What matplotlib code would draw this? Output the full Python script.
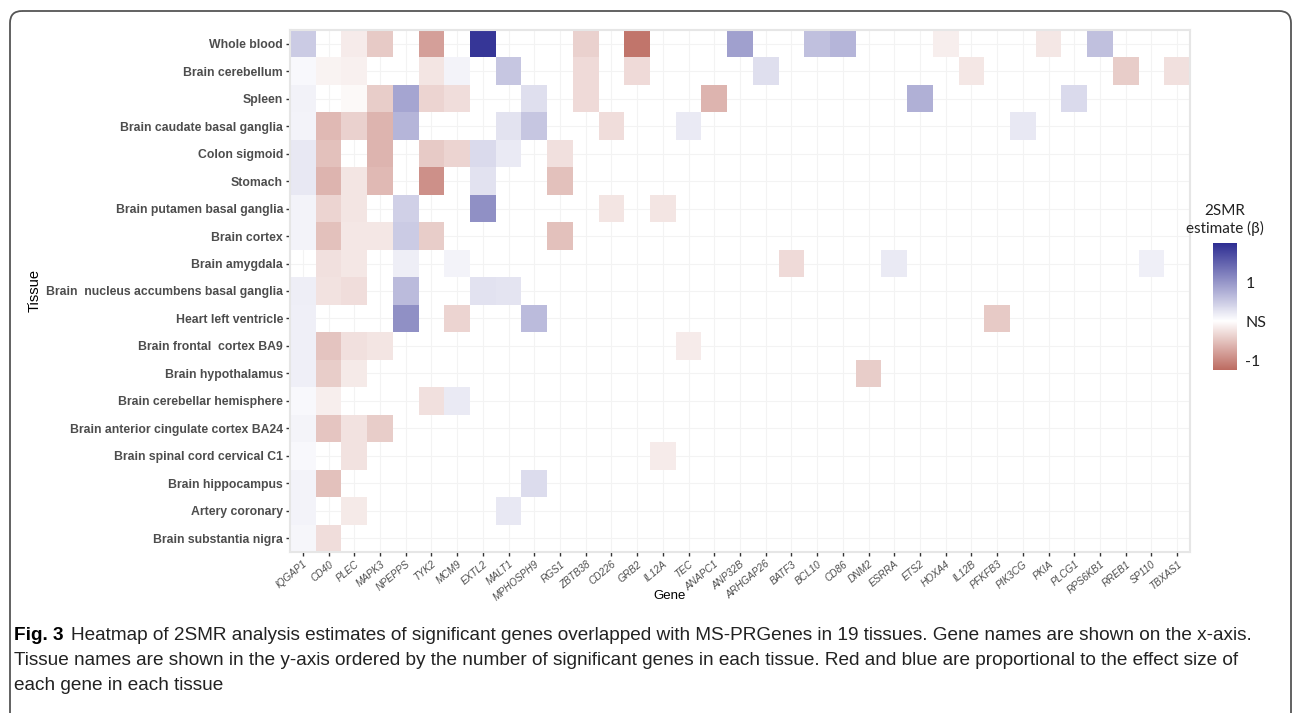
import numpy as np
import matplotlib
matplotlib.use("Agg")
import matplotlib.pyplot as plt
from matplotlib.colors import LinearSegmentedColormap, Normalize
from matplotlib.patches import FancyBboxPatch

# tissues ordered by number of significant genes (top to bottom)
tissues = [
    "Whole blood", "Brain cerebellum", "Spleen", "Brain caudate basal ganglia",
    "Colon sigmoid", "Stomach", "Brain putamen basal ganglia", "Brain cortex",
    "Brain amygdala", "Brain  nucleus accumbens basal ganglia", "Heart left ventricle",
    "Brain frontal  cortex BA9", "Brain hypothalamus", "Brain cerebellar hemisphere",
    "Brain anterior cingulate cortex BA24", "Brain spinal cord cervical C1",
    "Brain hippocampus", "Artery coronary", "Brain substantia nigra",
]

genes = [
    "IQGAP1", "CD40", "PLEC", "MAPK3", "NPEPPS", "TYK2", "MCM9", "EXTL2", "MALT1",
    "MPHOSPH9", "RGS1", "ZBTB38", "CD226", "GRB2", "IL12A", "TEC", "ANAPC1", "ANP32B",
    "ARHGAP26", "BATF3", "BCL10", "CD86", "DNM2", "ESRRA", "ETS2", "HOXA4", "IL12B",
    "PFKFB3", "PIK3CG", "PKIA", "PLCG1", "RPS6KB1", "RREB1", "SP110", "TBXAS1",
]

# 2SMR estimates (beta) per tissue, only significant genes; the rest is NS
betas = [
    {"IQGAP1": 0.5, "PLEC": -0.17, "MAPK3": -0.45, "TYK2": -0.8, "EXTL2": 1.9,
     "ZBTB38": -0.38, "GRB2": -1.15, "ANP32B": 0.9, "BCL10": 0.6, "CD86": 0.7,
     "HOXA4": -0.14, "PKIA": -0.2, "RPS6KB1": 0.6},
    {"IQGAP1": 0.07, "CD40": -0.1, "PLEC": -0.13, "TYK2": -0.22, "MCM9": 0.12,
     "MALT1": 0.55, "ZBTB38": -0.3, "GRB2": -0.3, "ARHGAP26": 0.3, "IL12B": -0.2,
     "RREB1": -0.42, "TBXAS1": -0.25},
    {"IQGAP1": 0.13, "PLEC": -0.05, "MAPK3": -0.42, "NPEPPS": 0.85, "TYK2": -0.36,
     "MCM9": -0.28, "MPHOSPH9": 0.3, "ZBTB38": -0.3, "ANAPC1": -0.62, "ETS2": 0.75,
     "PLCG1": 0.35},
    {"IQGAP1": 0.12, "CD40": -0.58, "PLEC": -0.38, "MAPK3": -0.62, "NPEPPS": 0.7,
     "MALT1": 0.27, "MPHOSPH9": 0.55, "CD226": -0.28, "TEC": 0.2, "PIK3CG": 0.22},
    {"IQGAP1": 0.22, "CD40": -0.52, "MAPK3": -0.62, "TYK2": -0.45, "MCM9": -0.35,
     "EXTL2": 0.35, "MALT1": 0.2, "RGS1": -0.25},
    {"IQGAP1": 0.22, "CD40": -0.62, "PLEC": -0.22, "MAPK3": -0.58, "TYK2": -0.92,
     "EXTL2": 0.28, "RGS1": -0.52},
    {"IQGAP1": 0.12, "CD40": -0.36, "PLEC": -0.22, "NPEPPS": 0.45, "EXTL2": 1.05,
     "CD226": -0.22, "IL12A": -0.22},
    {"IQGAP1": 0.12, "CD40": -0.52, "PLEC": -0.2, "MAPK3": -0.2, "NPEPPS": 0.5,
     "TYK2": -0.42, "RGS1": -0.52},
    {"CD40": -0.25, "PLEC": -0.2, "NPEPPS": 0.17, "MCM9": 0.12, "BATF3": -0.3,
     "ESRRA": 0.2, "SP110": 0.15},
    {"IQGAP1": 0.17, "CD40": -0.24, "PLEC": -0.28, "NPEPPS": 0.65, "EXTL2": 0.28,
     "MALT1": 0.25},
    {"IQGAP1": 0.15, "NPEPPS": 1.05, "MCM9": -0.35, "MPHOSPH9": 0.65, "PFKFB3": -0.45},
    {"IQGAP1": 0.15, "CD40": -0.5, "PLEC": -0.25, "MAPK3": -0.22, "TEC": -0.17},
    {"IQGAP1": 0.15, "CD40": -0.42, "PLEC": -0.18, "DNM2": -0.42},
    {"IQGAP1": 0.06, "CD40": -0.14, "TYK2": -0.25, "MCM9": 0.2},
    {"IQGAP1": 0.1, "CD40": -0.48, "PLEC": -0.24, "MAPK3": -0.42},
    {"IQGAP1": 0.06, "PLEC": -0.24, "IL12A": -0.17},
    {"IQGAP1": 0.12, "CD40": -0.52, "MPHOSPH9": 0.33},
    {"IQGAP1": 0.12, "PLEC": -0.18, "MALT1": 0.22},
    {"IQGAP1": 0.09, "CD40": -0.28},
]

caption_lines = [
    "Heatmap of 2SMR analysis estimates of significant genes overlapped with MS-PRGenes in 19 tissues. Gene names are shown on the x-axis.",
    "Tissue names are shown in the y-axis ordered by the number of significant genes in each tissue. Red and blue are proportional to the effect size of",
    "each gene in each tissue",
]

# build the tissue x gene matrix, NS cells masked
mat = np.full((len(tissues), len(genes)), np.nan)
for i, row in enumerate(betas):
    for g, v in row.items():
        mat[i, genes.index(g)] = v
mat = np.ma.masked_invalid(mat)

vmin, vmax = -1.25, 2.0
mid = -vmin / (vmax - vmin)
cmap = LinearSegmentedColormap.from_list(
    "smr", [(0.0, "#bc6a60"), (mid, "#ffffff"), (1.0, "#2d2d92")])
norm = Normalize(vmin=vmin, vmax=vmax)

W, H = 1293, 713
fig = plt.figure(figsize=(W / 100, H / 100), dpi=100)

# outer rounded frame
frame_ax = fig.add_axes([0, 0, 1, 1], zorder=-1)
frame_ax.set_xlim(0, W)
frame_ax.set_ylim(H, 0)
frame_ax.axis("off")
frame_ax.add_patch(FancyBboxPatch((10, 11), 1281, 720,
                                  boxstyle="round,pad=0,rounding_size=12",
                                  fc="none", ec="#555555", lw=1.3))

ax = fig.add_axes([290 / W, 1 - 552 / H, 900 / W, 522 / H])
ax.set_axisbelow(True)
ax.grid(True, color="#f3f3f3", lw=0.8)
mesh = ax.pcolormesh(np.arange(len(genes) + 1) - 0.5, np.arange(len(tissues) + 1) - 0.5,
                     mat, cmap=cmap, norm=norm, zorder=2)
ax.set_xlim(-0.5, len(genes) - 0.5)
ax.set_ylim(len(tissues) - 0.5, -0.5)

ax.set_xticks(np.arange(len(genes)))
ax.set_xticklabels(genes, rotation=40, ha="right", va="top", rotation_mode="anchor",
                   fontstyle="italic", fontsize=7.2, color="#4d4d4d",
                   family="Liberation Sans")
ax.set_yticks(np.arange(len(tissues)))
ax.set_yticklabels(tissues, fontsize=8.8, fontweight="bold", color="#4d4d4d",
                   family="Liberation Sans")
ax.tick_params(length=3, width=1, color="#333333", pad=2)
for s in ax.spines.values():
    s.set_color("#e6e6e6")
    s.set_linewidth(1.5)

ax.set_xlabel("Gene", fontsize=9.5, family="Liberation Sans")
ax.xaxis.set_label_coords((670 - 290) / 900, -(596 - 552) / 522)
ax.xaxis.label.set_va("center")
ax.set_ylabel("Tissue", fontsize=10.5, family="Liberation Sans")
ax.yaxis.set_label_coords((35 - 290) / 900, 0.5)
ax.yaxis.label.set_va("center")

# colour bar
cax = fig.add_axes([1213 / W, 1 - 370 / H, 24 / W, 127 / H])
cb = fig.colorbar(mesh, cax=cax, ticks=[-1, 0, 1])
cb.ax.set_yticklabels(["-1", "NS", "1"], fontsize=11.5, family="Lato", color="#222222")
cb.ax.tick_params(length=0, pad=6)
cb.outline.set_visible(False)
fig.text(1225 / W, 1 - 220 / H, "2SMR\nestimate (β)", ha="center", va="center",
         fontsize=11, family="Lato", linespacing=1.3, color="#222222")

# caption
cap_font = ["Liberation Sans Narrow", "Liberation Sans"]
fs = 12
fig_lbl = fig.text(14 / W, 1 - 635 / H, "Fig. 3", fontsize=fs, fontweight="bold",
                   family=cap_font, va="center")
line_objs = []
for k, line in enumerate(caption_lines):
    x0 = 71 if k == 0 else 14
    line_objs.append(fig.text(x0 / W, 1 - (635 + 25.5 * k) / H, line, fontsize=fs,
                              family=cap_font, va="center", color="#222222"))

# scale caption so the first line spans the same width as the reference
fig.canvas.draw()
r = fig.canvas.get_renderer()
w0 = line_objs[0].get_window_extent(r).width
scale = (1262 - 71) / w0
for t in line_objs + [fig_lbl]:
    t.set_fontsize(fs * scale)

fig.savefig("out.png", dpi=100)
